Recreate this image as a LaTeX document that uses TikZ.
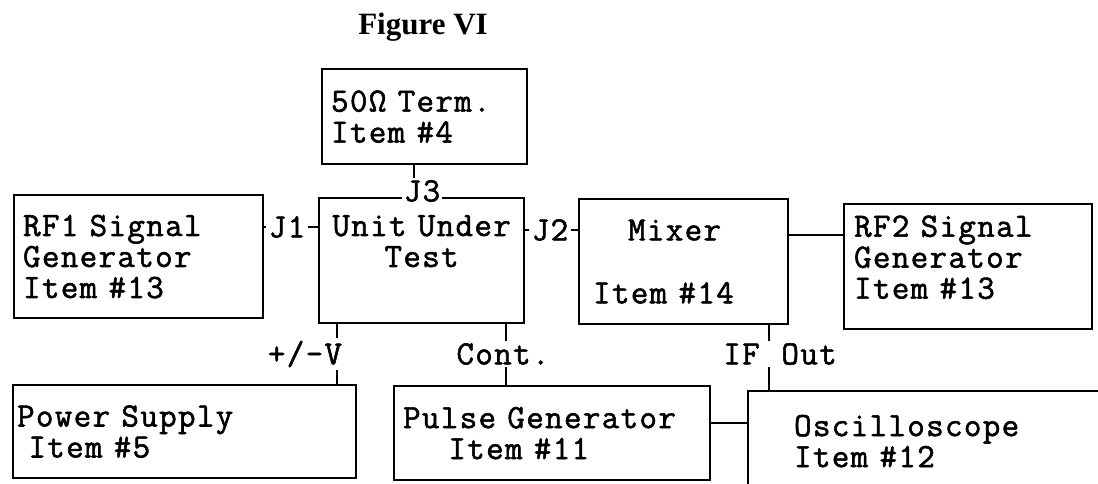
\documentclass[tikz,border=0pt]{standalone}
\usepackage{fontspec}
\setmainfont{Liberation Serif}
\newfontfamily\courier{Latin Modern Mono}[FakeBold=1.6, LetterSpace=4, WordSpace={1.15,0,0}]
\usepackage{tikz}
\usetikzlibrary{positioning,calc}
\newcommand{\cajafont}{\courier\fontsize{17}{15.5}\selectfont}
\tikzset{
  caja/.style={draw, line width=1.1pt, anchor=north west, align=left,
    font=\cajafont, inner ysep=0pt},
  etq/.style={font=\cajafont, inner sep=1pt, fill=white},
  linea/.style={line width=1.1pt},
}

\begin{document}
\begin{tikzpicture}[x=0.5pt, y=-0.5pt]
  \clip (0,0) rectangle (1098,483);
  \node[font=\bfseries\fontsize{15.5}{18}\selectfont] (titulo) at (423,27) {Figure VI};
  % equipment boxes
  \node[caja, inner xsep=4.5pt, text width=93.5pt, minimum height=47.5pt] (term) at (321,68) {50Ω Term.\\Item \#4};
  \node[caja, inner xsep=4.5pt, text width=115.5pt, minimum height=61.5pt] (rf1) at (13,194) {RF1 Signal\\Generator\\Item \#13};
  \node[caja, align=center, inner xsep=1pt, text width=100.5pt, minimum height=62.5pt] (uut) at (318,197) {Unit Under\\Test\\[4pt]\mbox{}};
  \node[caja, inner xsep=7pt, text width=90.5pt, minimum height=62.5pt] (mixer) at (578,198) {\hspace{17.5pt}Mixer\\[16pt]Item \#14};
  \node[caja, inner xsep=5pt, text width=114pt, minimum height=62.5pt] (rf2) at (843,203) {RF2 Signal\\Generator\\Item \#13\\[-6pt]\mbox{}};
  \node[caja, inner xsep=2pt, text width=167.5pt, minimum height=46.5pt] (psu) at (12,384) {Power Supply\\~Item \#5};
  \node[caja, inner xsep=4.5pt, text width=149pt, minimum height=47pt] (pulse) at (393,385) {Pulse Generator\\~~~~Item \#11};
  \node[caja, inner xsep=23pt, text width=170pt, minimum height=50pt] (osc) at (747,390) {Oscilloscope\\Item \#12};
  % connector labels
  \node[etq] (j3) at (422,191) {J3};
  \node[etq] (j1) at (287,227) {J1};
  \node[etq] (j2) at (550,230) {J2};
  \node[etq] (pv) at (305,354) {+/-V};
  \node[etq] (cont) at (503,354) {Cont.};
  \node[etq] (ifout) at (780,354) {IF Out};
  % connections
  \coordinate (t3) at ([xshift=-5.25pt]term.south);
  \draw[linea] (t3) -- (t3 |- j3.north);
  \draw[linea] (j1.west -| rf1.east) -- (j1.west) (j1.east) -- (j1.east -| uut.west);
  \draw[linea] (j2.west -| uut.east) -- (j2.west) (j2.east) -- (j2.east -| mixer.west);
  \coordinate (m2) at ([yshift=16pt]rf2.west);
  \draw[linea] (m2 -| mixer.east) -- (m2);
  \coordinate (tv) at ([xshift=9.5pt]uut.south west);
  \draw[linea] (tv) -- (tv |- pv.north) (tv |- pv.south) -- (tv |- psu.north);
  \coordinate (tc) at ([xshift=-9.5pt]uut.south east);
  \draw[linea] (tc) -- (tc |- cont.north) (tc |- cont.south) -- (tc |- pulse.north);
  \coordinate (ti) at ([xshift=-10pt]mixer.south east);
  \draw[linea] (ti) -- (ti |- ifout.north) (ti |- ifout.south) -- (ti |- osc.north);
  \coordinate (po) at ([yshift=5pt]pulse.east);
  \draw[linea] (po) -- (po -| osc.west);
\end{tikzpicture}
\end{document}
